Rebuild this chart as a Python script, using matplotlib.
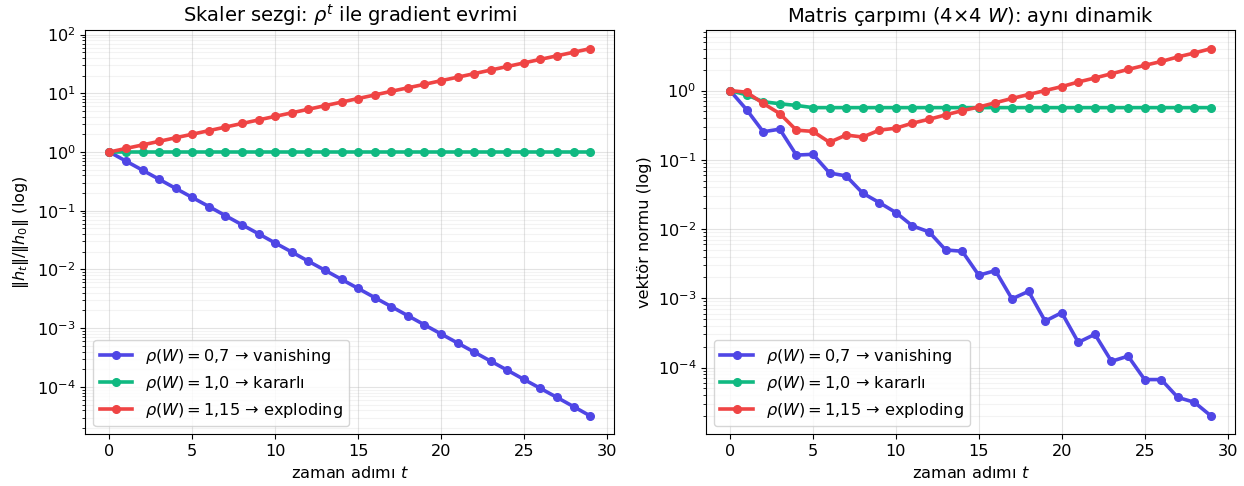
import matplotlib
matplotlib.use("Agg")
import matplotlib.pyplot as plt

t = list(range(30))

# Left panel (scalar intuition)
left_vanishing = [1.0, 0.7, 0.49, 0.343, 0.24, 0.168, 0.118, 0.0824, 0.0576, 0.0404,
                  0.0282, 0.0198, 0.0138, 0.00969, 0.00678, 0.00475, 0.00332, 0.00233,
                  0.00163, 0.00114, 0.000798, 0.000559, 0.000391, 0.000274, 0.000192,
                  0.000134, 9.4e-5, 6.6e-5, 4.6e-5, 3.2e-5]
left_stable = [1.0] * 30
left_exploding = [1.0, 1.15, 1.32, 1.52, 1.75, 2.01, 2.31, 2.66, 3.06, 3.52, 4.05, 4.65,
                  5.35, 6.15, 7.08, 8.14, 9.36, 10.8, 12.4, 14.2, 16.4, 18.8, 21.6, 24.9,
                  28.6, 32.9, 37.9, 43.5, 50.1, 57.6]

# Right panel (4x4 matrix product)
right_vanishing = [1.0, 0.53, 0.254, 0.277, 0.117, 0.12, 0.0645, 0.0585, 0.033, 0.0241,
                   0.0173, 0.0111, 0.0091, 0.00499, 0.00478, 0.00215, 0.00251, 0.00098,
                   0.00126, 0.000468, 0.00062, 0.000231, 0.000302, 0.000123, 0.000146,
                   6.7e-5, 6.7e-5, 3.7e-5, 3.15e-5, 2.0e-5]
right_stable = [1.0, 0.867, 0.69, 0.645, 0.61, 0.567, 0.567, 0.567, 0.567, 0.567,
                0.567, 0.567, 0.567, 0.567, 0.567, 0.567, 0.567, 0.567, 0.567, 0.567,
                0.567, 0.567, 0.567, 0.567, 0.567, 0.567, 0.567, 0.567, 0.567, 0.567]
right_exploding = [1.0, 0.946, 0.652, 0.465, 0.268, 0.257, 0.179, 0.228, 0.213, 0.268,
                   0.286, 0.338, 0.385, 0.445, 0.513, 0.578, 0.667, 0.769, 0.877, 1.0,
                   1.14, 1.33, 1.52, 1.75, 2.02, 2.31, 2.63, 3.06, 3.49, 4.03]

labels = [r'$\rho(W) = 0{,}7$ → vanishing',
          r'$\rho(W) = 1{,}0$ → kararlı',
          r'$\rho(W) = 1{,}15$ → exploding']
colors = ['#4F46E5', '#10B981', '#EF4444']

fig = plt.figure(figsize=(12.44, 4.86), dpi=100)
ax1 = fig.add_axes([0.0686, 0.1064, 0.4252, 0.8313])
ax2 = fig.add_axes([0.5675, 0.1064, 0.4253, 0.8313])

def draw(ax, series, title, ylabel):
    for ys, c, lab in zip(series, colors, labels):
        ax.plot(t, ys, '-o', color=c, lw=2.6, ms=5.5, label=lab)
    ax.set_yscale('log')
    ax.grid(True, which='major', alpha=0.35)
    ax.grid(True, which='minor', alpha=0.15)
    ax.set_title(title, fontsize=14)
    ax.set_xlabel(r'zaman adımı $t$', fontsize=11.6)
    ax.set_ylabel(ylabel, fontsize=11.6)
    ax.tick_params(labelsize=11.6)
    ax.legend(loc='lower left', fontsize=11.6)

draw(ax1, [left_vanishing, left_stable, left_exploding],
     r'Skaler sezgi: $\rho^t$ ile gradient evrimi', r'$\|h_t\| / \|h_0\|$ (log)')
draw(ax2, [right_vanishing, right_stable, right_exploding],
     r'Matris çarpımı (4×4 $W$): aynı dinamik', 'vektör normu (log)')

fig.savefig('out.png', dpi=100)
